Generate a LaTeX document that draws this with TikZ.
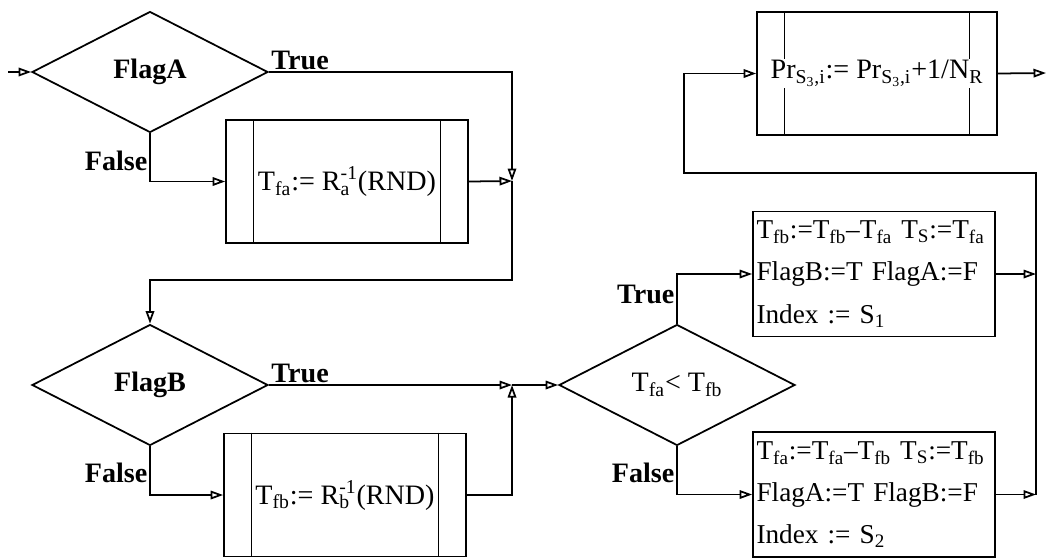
\documentclass[tikz,border=0pt]{standalone}
\usepackage{fontspec}
\setmainfont{Liberation Serif}
\usetikzlibrary{arrows.meta,shapes.geometric,positioning,backgrounds}
\newcommand{\lo}[1]{\textsubscript{#1}}
\newcommand{\inv}[1]{\rlap{\textsubscript{#1}}\textsuperscript{-1}}
\tikzset{
  every picture/.style={line width=1pt,font=\fontsize{16}{19}\selectfont},
  dec/.style={draw,diamond,aspect=2,inner sep=0pt,minimum width=4.72cm,minimum height=2.42cm},
  proc/.style={draw,rectangle,inner sep=0pt,minimum width=4.84cm,minimum height=2.46cm},
  asg/.style={draw,rectangle,inner sep=2pt,text width=4.7cm,minimum height=2.5cm,
    align=left,font=\fontsize{15.5}{24}\selectfont},
  lbl/.style={font=\bfseries\fontsize{16}{19}\selectfont,inner sep=1pt},
  arr/.style={-{Triangle[open,length=2.5mm,width=1.7mm]}},
}

\begin{document}
\begin{tikzpicture}[x=0.02cm,y=-0.02cm]
  \useasboundingbox (0,0) rectangle (1050,559);

  % left column
  \coordinate (in) at (8,72);
  \node[dec,font=\bfseries\fontsize{16}{19}\selectfont] (fa) at (150,72) {FlagA};
  \node[proc] (ra) at (347,181.5) {T\lo{fa}:= R\inv{a}(RND)};
  \node[dec,font=\bfseries\fontsize{16}{19}\selectfont] (fb) at (150,385) {FlagB};
  \node[proc] (rb) at (345,495) {T\lo{fb}:= R\inv{b}(RND)};
  \coordinate (j1) at (512,181);
  \coordinate (lp) at (512,280);
  \coordinate (j2) at (512,385);

  \node[lbl,anchor=south west] (fat) at (fa.east) {True};
  \node[lbl,anchor=east] (faf) at ([yshift=-0.56cm]fa.south) {False};
  \node[lbl,anchor=south west] (fbt) at (fb.east) {True};
  \node[lbl,anchor=east] (fbf) at ([yshift=-0.54cm]fb.south) {False};

  % right part
  \node[dec] (cmp) at (677,385) {T\lo{fa}< T\lo{fb}};
  \node[asg] (s1) at (874,274) {T\lo{fb}:=T\lo{fb}--T\lo{fa} T\lo{S}:=T\lo{fa}\\
    FlagB:=T FlagA:=F\\ Index := S\lo{1}};
  \node[asg] (s2) at (874,494.5) {T\lo{fa}:=T\lo{fa}--T\lo{fb} T\lo{S}:=T\lo{fb}\\
    FlagA:=T FlagB:=F\\ Index := S\lo{2}};
  \node[proc,minimum width=4.8cm] (pr) at (877,73.5)
    {\fboxsep=1pt\colorbox{white}{Pr\lo{S\lo{3},i}:= Pr\lo{S\lo{3},i}+1/N\lo{R}}};
  \node[lbl,anchor=east] (cmt) at ([yshift=0.58cm]cmp.north) {True};
  \node[lbl,anchor=east] (cmf) at ([yshift=-0.54cm]cmp.south) {False};
  \coordinate (rt) at (1036,173);
  \coordinate (lt) at (684,173);
  \coordinate (out) at (1046,73);

  \begin{scope}[on background layer,line width=1pt]
    \foreach \b in {ra,rb,pr}
      \draw ([xshift=0.57cm]\b.north west) -- ([xshift=0.57cm]\b.south west)
            ([xshift=-0.57cm]\b.north east) -- ([xshift=-0.57cm]\b.south east);
  \end{scope}

  \draw[arr] (in) -- (fa.west);
  \draw[arr] (fa.east) -| (j1);
  \draw[arr] (fa.south) |- (ra.west);
  \draw[arr] (ra.east) -- (j1);
  \draw[arr] (j1) -- (lp) -| (fb.north);
  \draw[arr] (fb.east) -- (j2);
  \draw[arr] (fb.south) |- (rb.west);
  \draw[arr] (rb.east) -| (j2);
  \draw[arr] (j2) -- (cmp.west);
  \draw[arr] (cmp.north) |- (s1.west);
  \draw[arr] (cmp.south) |- (s2.west);
  \draw[arr] (s1.east) -- (s1.east -| rt);
  \draw[arr] (s2.east) -- (s2.east -| rt);
  \draw[arr] (s2.east -| rt) -- (rt) -- (lt) |- (pr.west);
  \draw[arr] (pr.east) -- (out);
\end{tikzpicture}
\end{document}
